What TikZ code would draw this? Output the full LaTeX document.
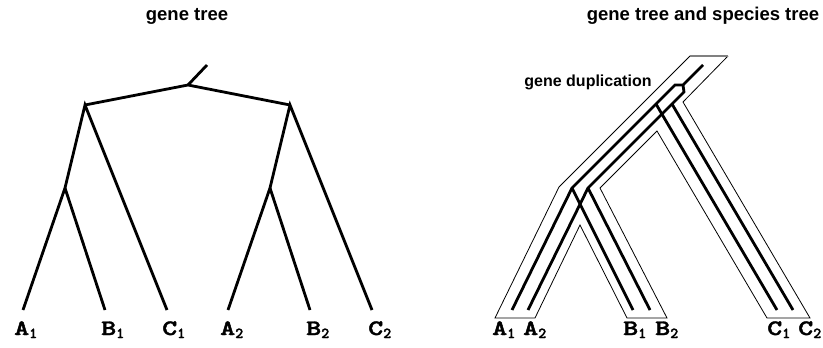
\documentclass[tikz,border=0pt]{standalone}
\usepackage{fontspec}
\setmainfont{Liberation Sans}
\newfontfamily\leaffont{lmmonolt10-bold.otf}[FakeBold=1.6]
\usepackage{graphicx}
\newcommand{\leafname}[2]{\scalebox{1.3}[1]{#1}\textsubscript{#2}}

\begin{document}
\begin{tikzpicture}[x=1pt,y=-1pt,
  genebranch/.style={line width=2.8pt,line join=miter},
  speciestube/.style={line width=0.8pt,line join=miter},
  leaflabel/.style={anchor=base west,inner sep=0pt,font=\fontsize{22}{22}\leaffont},
  heading/.style={font=\fontsize{18.5}{18.5}\selectfont\bfseries},
  note/.style={font=\fontsize{16}{16}\selectfont\bfseries}]
  \useasboundingbox (0,0) rectangle (823,348);
  % Headings
  \node[heading] (ttlL) at (187,16) {gene tree};
  \node[heading] (ttlR) at (703,16) {gene tree and species tree};
  % Gene tree (left)
  \coordinate (top) at (207,65);
  \coordinate (root) at (188,85);
  \coordinate (n1) at (85,105);
  \coordinate (n2) at (290,105);
  \coordinate (n3) at (65,188);
  \coordinate (n4) at (270,188);
  \foreach \name/\x in {a1/23,b1/105,c1/167,a2/228,b2/310,c2/372}
    \coordinate (\name) at (\x,310);
  \draw[genebranch] (top) -- (root);
  \draw[genebranch] (n1) -- (root) -- (n2);
  \draw[genebranch] (c1) -- (n1) -- (n3) -- (a1);
  \draw[genebranch] (n3) -- (b1);
  \draw[genebranch] (c2) -- (n2) -- (n4) -- (a2);
  \draw[genebranch] (n4) -- (b2);
  \foreach \l/\s/\x in {A/1/14,B/1/101,C/1/162,A/2/220,B/2/306,C/2/368}
    \node[leaflabel] (l\l\s) at (\x,335) {\leafname{\l}{\s}};
  % Species tree (right)
  \draw[speciestube] (690,56) -- (559,187) -- (495,318) -- (535,318) -- (580,225)
    -- (627,318) -- (667,318) -- (600,188) -- (657,131) -- (767,318) -- (810,318)
    -- (683,102) -- (728,56);
  \draw[gray,line width=1.6pt] (690,56) -- (728,56);
  % Gene tree inside species tree
  \coordinate (gtop) at (703,65);
  \coordinate (dup) at (683,85);
  \coordinate (d1) at (675,85);
  \coordinate (d2) at (684,92);
  \coordinate (k1) at (656,104);
  \coordinate (k2) at (672,104);
  \coordinate (s1) at (572,188);
  \coordinate (s2) at (588,188);
  \foreach \name/\x in {ra1/512,ra2/528,rb1/633,rb2/650,rc1/777,rc2/793}
    \coordinate (\name) at (\x,310);
  \draw[genebranch] (gtop) -- (dup) -- (d1) -- (k1) -- (s1) -- (ra1);
  \draw[genebranch] (dup) -- (d2) -- (k2) -- (s2) -- (ra2);
  \draw[genebranch] (s1) -- (rb1);
  \draw[genebranch] (s2) -- (rb2);
  \draw[genebranch] (k1) -- (rc1);
  \draw[genebranch] (k2) -- (rc2);
  \foreach \l/\s/\x in {A/1/492,A/2/523,B/1/623,B/2/655,C/1/767,C/2/798}
    \node[leaflabel] (r\l\s) at (\x,335) {\leafname{\l}{\s}};
  \node[note] (dupnote) at (588,82) {gene duplication};
\end{tikzpicture}
\end{document}
